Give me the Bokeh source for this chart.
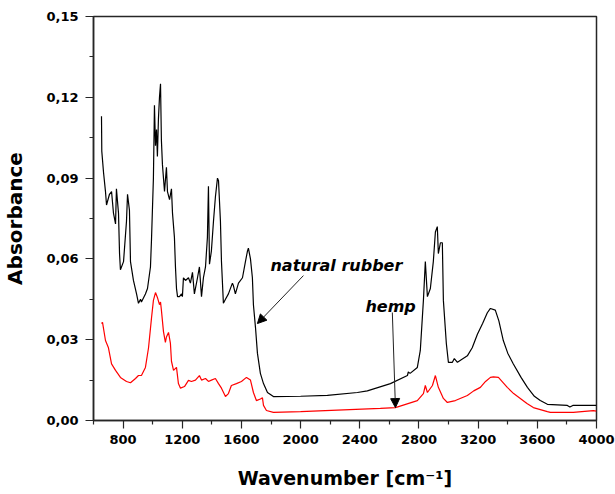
from bokeh.plotting import figure
from bokeh.models import (FixedTicker, CustomJSTickFormatter, Label, Arrow,
                          NormalHead, Range1d)
from bokeh.embed import file_html
from bokeh.resources import INLINE

# FTIR spectrum of natural rubber (wavenumber in cm-1, absorbance)
wn_rubber = [654, 656, 668, 681, 688, 708, 722, 735, 749, 755, 769, 776, 782,
             803, 823, 830, 843, 850, 870, 891, 904, 918, 924, 951, 965, 985,
             992, 1005, 1012, 1019, 1026, 1032, 1039, 1046, 1053, 1059, 1066,
             1080, 1093, 1100, 1114, 1127, 1134, 1147, 1154, 1161, 1168, 1181,
             1195, 1201, 1208, 1222, 1242, 1255, 1269, 1282, 1303, 1316, 1330,
             1343, 1357, 1370, 1377, 1384, 1397, 1411, 1424, 1438, 1445, 1458,
             1465, 1478, 1492, 1512, 1539, 1546, 1559, 1580, 1607, 1627, 1641,
             1647, 1661, 1674, 1681, 1695, 1708, 1728, 1749, 1776, 1816, 2000,
             2181, 2384, 2451, 2607, 2722, 2728, 2740, 2789, 2809, 2830, 2843,
             2857, 2877, 2897, 2911, 2924, 2931, 2945, 2958, 2965, 2985, 2999,
             3026, 3039, 3060, 3127, 3160, 3195, 3230, 3262, 3283, 3316, 3340,
             3370, 3400, 3438, 3490, 3533, 3580, 3620, 3668, 3803, 3820, 3840,
             4000]
abs_rubber = [0.113, 0.100, 0.092, 0.085, 0.080, 0.084, 0.085, 0.077, 0.073,
              0.086, 0.077, 0.062, 0.056, 0.059, 0.074, 0.084, 0.078, 0.059,
              0.052, 0.047, 0.0435, 0.045, 0.044, 0.047, 0.049, 0.057, 0.067,
              0.090, 0.117, 0.102, 0.108, 0.098, 0.112, 0.120, 0.125, 0.104,
              0.095, 0.085, 0.094, 0.085, 0.082, 0.086, 0.077, 0.068, 0.057,
              0.049, 0.046, 0.046, 0.047, 0.046, 0.053, 0.052, 0.053, 0.051,
              0.055, 0.047, 0.053, 0.057, 0.046, 0.053, 0.057, 0.068, 0.087,
              0.058, 0.063, 0.074, 0.083, 0.090, 0.089, 0.074, 0.059, 0.0435,
              0.045, 0.047, 0.051, 0.050, 0.047, 0.051, 0.053, 0.059, 0.063,
              0.064, 0.060, 0.053, 0.043, 0.0345, 0.025, 0.0175, 0.0137, 0.0104,
              0.0089, 0.0090, 0.0093, 0.0104, 0.011, 0.0137, 0.0167, 0.018,
              0.0175, 0.0197, 0.026, 0.0446, 0.059, 0.046, 0.049, 0.059, 0.070,
              0.072, 0.062, 0.066, 0.066, 0.0446, 0.0286, 0.0216, 0.0216, 0.023,
              0.0216, 0.024, 0.027, 0.032, 0.036, 0.040, 0.0416, 0.041, 0.037,
              0.0297, 0.025, 0.021, 0.016, 0.0123, 0.009, 0.0074, 0.006, 0.0056,
              0.0050, 0.0056, 0.0056]

# FTIR spectrum of hemp
wn_hemp = [654, 661, 681, 701, 722, 749, 782, 823, 850, 884, 904, 924, 951,
           972, 992, 1005, 1019, 1032, 1046, 1053, 1059, 1073, 1086, 1093,
           1107, 1120, 1127, 1141, 1161, 1174, 1188, 1215, 1242, 1262, 1289,
           1316, 1330, 1357, 1377, 1397, 1424, 1445, 1465, 1492, 1512, 1532,
           1566, 1600, 1634, 1661, 1681, 1701, 1728, 1742, 1749, 1769, 1816,
           2000, 2539, 2641, 2789, 2830, 2843, 2857, 2891, 2911, 2931, 2965,
           2992, 3046, 3127, 3170, 3215, 3250, 3283, 3303, 3337, 3370, 3397,
           3440, 3485, 3530, 3573, 3668, 3688, 3843, 3978, 4000]
abs_hemp = [0.036, 0.0364, 0.0297, 0.027, 0.021, 0.0186, 0.016, 0.0145, 0.014,
            0.0156, 0.0167, 0.0167, 0.0197, 0.027, 0.038, 0.0446, 0.0475,
            0.0457, 0.043, 0.044, 0.041, 0.033, 0.029, 0.031, 0.0327, 0.0286,
            0.022, 0.0186, 0.0197, 0.0137, 0.012, 0.0126, 0.0149, 0.0145,
            0.015, 0.0167, 0.015, 0.0156, 0.0145, 0.015, 0.0156, 0.0137, 0.012,
            0.0089, 0.010, 0.013, 0.0137, 0.0145, 0.016, 0.015, 0.0104, 0.0074,
            0.008, 0.0084, 0.0056, 0.0037, 0.003, 0.0033, 0.0045, 0.0048,
            0.0074, 0.010, 0.013, 0.0104, 0.013, 0.0167, 0.0123, 0.0082,
            0.0067, 0.0074, 0.0093, 0.011, 0.0123, 0.0145, 0.016, 0.0162,
            0.016, 0.014, 0.0123, 0.010, 0.0082, 0.0063, 0.0048, 0.0033, 0.003,
            0.003, 0.0037, 0.0035]

x_major = [800, 1200, 1600, 2000, 2400, 2800, 3200, 3600, 4000]
x_minor = [600, 1000, 1400, 1800, 2200, 2600, 3000, 3400, 3800]
y_major = [0.0, 0.03, 0.06, 0.09, 0.12, 0.15]
y_minor = [0.015, 0.045, 0.075, 0.105, 0.135]

FONT = "DejaVu Sans"
AXIS_COLOR = "#262626"

p = figure(width=615, height=494,
           x_range=Range1d(600, 4000), y_range=Range1d(0, 0.15),
           output_backend="svg", toolbar_location=None,
           min_border_left=93, min_border_right=19,
           min_border_top=16, min_border_bottom=74,
           background_fill_color="white", border_fill_color="white")

p.xgrid.visible = False
p.ygrid.visible = False
p.outline_line_color = AXIS_COLOR
p.outline_line_width = 1.5
p.outline_line_alpha = 1.0

p.xaxis.ticker = FixedTicker(ticks=x_major, minor_ticks=x_minor)
p.yaxis.ticker = FixedTicker(ticks=y_major, minor_ticks=y_minor)
p.yaxis.formatter = CustomJSTickFormatter(
    code="return tick.toFixed(2).replace('.', ',');")

for ax in (p.xaxis[0], p.yaxis[0]):
    ax.axis_line_color = AXIS_COLOR
    ax.axis_line_width = 1.5
    ax.major_tick_line_color = AXIS_COLOR
    ax.minor_tick_line_color = AXIS_COLOR
    ax.major_tick_line_width = 1.2
    ax.minor_tick_line_width = 1.2
    ax.major_tick_in = 0
    ax.major_tick_out = 8
    ax.minor_tick_in = 0
    ax.minor_tick_out = 4
    ax.major_label_text_font = FONT
    ax.major_label_text_font_style = "bold"
    ax.major_label_text_font_size = "13px"
    ax.major_label_text_color = "black"
    ax.axis_label_text_font = FONT
    ax.axis_label_text_font_style = "bold"
    ax.axis_label_text_color = "black"

p.xaxis.major_label_standoff = 6
p.yaxis.major_label_standoff = 7

p.yaxis.axis_label = "Absorbance"
p.yaxis.axis_label_text_font_size = "20px"
p.yaxis.axis_label_standoff = 16
p.xaxis.axis_label = "Wavenumber [cm\u207b\u00b9]"
p.xaxis.axis_label_text_font_size = "19px"
p.xaxis.axis_label_standoff = 20

# spectra
p.line(wn_rubber, abs_rubber, line_color="black", line_width=1.2)
p.line(wn_hemp, abs_hemp, line_color="#ff0000", line_width=1.2)

# annotations with arrows
note_kw = dict(text_color="black", text_font=FONT,
               text_font_style="bold italic", text_font_size="16px",
               text_baseline="alphabetic")
p.add_layout(Label(x=1796, y=0.0576, text="natural rubber", **note_kw))
p.add_layout(Label(x=2438, y=0.0423, text="hemp", **note_kw))

head_kw = dict(size=9, fill_color="black", line_color="black", line_width=1)
p.add_layout(Arrow(end=NormalHead(**head_kw), x_start=2019, y_start=0.0538,
                   x_end=1708, y_end=0.036, line_color="#222", line_width=1))
p.add_layout(Arrow(end=NormalHead(**head_kw), x_start=2620, y_start=0.0401,
                   x_end=2641, y_end=0.0048, line_color="#222", line_width=1))

open("out.html", "w").write(file_html(p, INLINE))
